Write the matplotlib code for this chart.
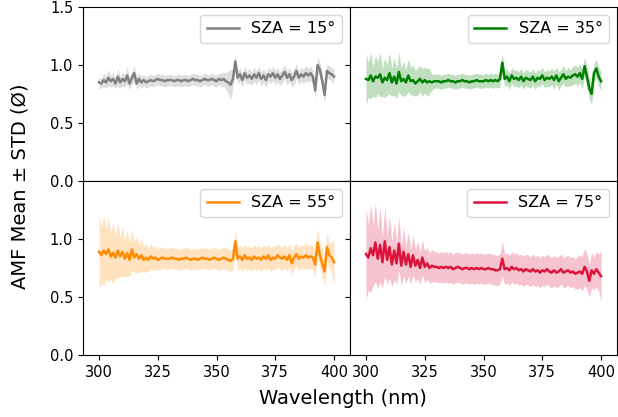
import numpy as np
import matplotlib
matplotlib.use("Agg")
import matplotlib.pyplot as plt

wavelength = np.arange(300, 401, 1)

sza_labels = ["SZA = 15°", "SZA = 35°", "SZA = 55°", "SZA = 75°"]
colors = ["grey", "green", "darkorange", "crimson"]

mean_15 = [
    0.85, 0.84, 0.87, 0.85, 0.89, 0.86, 0.88, 0.84, 0.90, 0.85,
    0.88, 0.86, 0.91, 0.84, 0.89, 0.93, 0.84, 0.88, 0.85, 0.87,
    0.85, 0.86, 0.87, 0.86, 0.87, 0.88, 0.87, 0.87, 0.86, 0.87,
    0.87, 0.87, 0.86, 0.87, 0.87, 0.86, 0.87, 0.87, 0.86, 0.87,
    0.88, 0.87, 0.87, 0.86, 0.87, 0.88, 0.87, 0.87, 0.88, 0.87,
    0.86, 0.88, 0.87, 0.88, 0.86, 0.85, 0.83, 0.88, 1.03, 0.89,
    0.92, 0.87, 0.93, 0.89, 0.91, 0.88, 0.92, 0.89, 0.93, 0.88,
    0.91, 0.87, 0.92, 0.90, 0.93, 0.89, 0.92, 0.88, 0.91, 0.94,
    0.89, 0.92, 0.87, 0.90, 0.95, 0.89, 0.92, 0.90, 0.93, 0.91,
    0.93, 0.90, 0.78, 1.00, 0.96, 0.86, 0.74, 0.95, 0.93, 0.92,
    0.90,
]
std_15 = [
    0.05, 0.04, 0.06, 0.05, 0.07, 0.05, 0.06, 0.04, 0.08, 0.05,
    0.06, 0.05, 0.08, 0.05, 0.06, 0.07, 0.05, 0.06, 0.05, 0.05,
    0.05, 0.05, 0.05, 0.05, 0.05, 0.05, 0.05, 0.05, 0.05, 0.05,
    0.05, 0.05, 0.05, 0.05, 0.05, 0.05, 0.05, 0.05, 0.05, 0.05,
    0.05, 0.05, 0.05, 0.05, 0.05, 0.05, 0.05, 0.05, 0.05, 0.05,
    0.05, 0.05, 0.06, 0.06, 0.07, 0.10, 0.13, 0.08, 0.06, 0.06,
    0.06, 0.06, 0.06, 0.06, 0.06, 0.06, 0.06, 0.06, 0.06, 0.06,
    0.06, 0.06, 0.06, 0.06, 0.06, 0.06, 0.06, 0.06, 0.06, 0.06,
    0.06, 0.06, 0.06, 0.07, 0.06, 0.06, 0.06, 0.06, 0.07, 0.06,
    0.06, 0.06, 0.07, 0.07, 0.06, 0.06, 0.07, 0.06, 0.06, 0.06,
    0.06,
]

mean_35 = [
    0.88, 0.87, 0.91, 0.86, 0.90, 0.89, 0.92, 0.85, 0.89, 0.87,
    0.93, 0.85, 0.90, 0.84, 0.94, 0.86, 0.88, 0.85, 0.91, 0.86,
    0.87, 0.84, 0.86, 0.88, 0.85, 0.87, 0.85, 0.86, 0.85, 0.86,
    0.86, 0.86, 0.85, 0.86, 0.86, 0.87, 0.86, 0.86, 0.85, 0.86,
    0.86, 0.87, 0.86, 0.86, 0.85, 0.86, 0.86, 0.87, 0.86, 0.86,
    0.86, 0.87, 0.86, 0.87, 0.86, 0.87, 0.86, 0.88, 1.02, 0.88,
    0.90, 0.86, 0.91, 0.88, 0.89, 0.87, 0.90, 0.86, 0.89, 0.88,
    0.87, 0.90, 0.86, 0.89, 0.88, 0.91, 0.87, 0.89, 0.88, 0.90,
    0.87, 0.91, 0.86, 0.89, 0.92, 0.88, 0.90, 0.89, 0.91, 0.92,
    0.90, 0.93, 0.88, 0.99, 0.90, 0.80, 0.75, 0.93, 0.97, 0.90,
    0.86,
]
std_35 = [
    0.22, 0.15, 0.20, 0.13, 0.18, 0.14, 0.19, 0.12, 0.17, 0.13,
    0.18, 0.12, 0.16, 0.13, 0.17, 0.12, 0.15, 0.11, 0.14, 0.12,
    0.13, 0.11, 0.12, 0.11, 0.12, 0.11, 0.12, 0.11, 0.07, 0.06,
    0.06, 0.06, 0.06, 0.06, 0.06, 0.06, 0.06, 0.06, 0.06, 0.06,
    0.06, 0.06, 0.06, 0.06, 0.06, 0.06, 0.06, 0.06, 0.06, 0.06,
    0.06, 0.06, 0.06, 0.06, 0.06, 0.06, 0.06, 0.07, 0.08, 0.07,
    0.07, 0.07, 0.07, 0.07, 0.07, 0.07, 0.07, 0.07, 0.07, 0.07,
    0.07, 0.07, 0.07, 0.07, 0.07, 0.07, 0.07, 0.07, 0.07, 0.07,
    0.08, 0.07, 0.08, 0.07, 0.08, 0.07, 0.08, 0.07, 0.08, 0.08,
    0.08, 0.08, 0.09, 0.08, 0.09, 0.09, 0.09, 0.08, 0.08, 0.08,
    0.08,
]

mean_55 = [
    0.89, 0.86, 0.90, 0.87, 0.91, 0.85, 0.88, 0.84, 0.90, 0.85,
    0.89, 0.83, 0.88, 0.82, 0.91, 0.84, 0.87, 0.83, 0.86, 0.82,
    0.84, 0.82, 0.85, 0.83, 0.84, 0.82, 0.83, 0.84, 0.83, 0.83,
    0.83, 0.84, 0.83, 0.83, 0.82, 0.83, 0.83, 0.84, 0.83, 0.82,
    0.83, 0.83, 0.82, 0.83, 0.84, 0.83, 0.83, 0.82, 0.83, 0.84,
    0.83, 0.82, 0.83, 0.84, 0.83, 0.82, 0.81, 0.83, 0.98, 0.83,
    0.85, 0.82, 0.86, 0.83, 0.84, 0.82, 0.85, 0.83, 0.84, 0.82,
    0.85, 0.83, 0.86, 0.82, 0.84, 0.83, 0.86, 0.84, 0.83, 0.85,
    0.82, 0.86, 0.79, 0.84, 0.87, 0.83, 0.85, 0.84, 0.86, 0.84,
    0.85, 0.84, 0.78, 0.97, 0.86, 0.79, 0.72, 0.93, 0.86, 0.84,
    0.80,
]
std_55 = [
    0.32, 0.24, 0.30, 0.22, 0.28, 0.20, 0.26, 0.18, 0.24, 0.17,
    0.22, 0.15, 0.20, 0.14, 0.18, 0.13, 0.16, 0.12, 0.14, 0.11,
    0.12, 0.10, 0.11, 0.10, 0.10, 0.09, 0.10, 0.09, 0.09, 0.09,
    0.09, 0.09, 0.09, 0.09, 0.09, 0.09, 0.09, 0.09, 0.09, 0.09,
    0.09, 0.09, 0.09, 0.09, 0.09, 0.09, 0.09, 0.09, 0.09, 0.09,
    0.09, 0.09, 0.09, 0.09, 0.09, 0.09, 0.09, 0.10, 0.10, 0.10,
    0.10, 0.10, 0.10, 0.10, 0.10, 0.10, 0.10, 0.10, 0.10, 0.10,
    0.10, 0.10, 0.10, 0.10, 0.10, 0.10, 0.10, 0.10, 0.10, 0.10,
    0.10, 0.10, 0.11, 0.10, 0.10, 0.10, 0.10, 0.10, 0.11, 0.10,
    0.10, 0.10, 0.11, 0.12, 0.11, 0.12, 0.12, 0.12, 0.11, 0.13,
    0.20,
]

mean_75 = [
    0.87, 0.84, 0.92, 0.86, 0.97, 0.83, 0.95, 0.80, 0.98, 0.82,
    0.93, 0.78, 0.90, 0.79, 0.96, 0.77, 0.89, 0.78, 0.87, 0.76,
    0.86, 0.77, 0.82, 0.75, 0.84, 0.76, 0.79, 0.75, 0.77, 0.76,
    0.76, 0.75, 0.76, 0.75, 0.76, 0.75, 0.76, 0.74, 0.75, 0.76,
    0.75, 0.74, 0.75, 0.75, 0.74, 0.75, 0.74, 0.75, 0.74, 0.75,
    0.74, 0.74, 0.75, 0.74, 0.74, 0.73, 0.73, 0.74, 0.83, 0.74,
    0.75, 0.73, 0.76, 0.74, 0.75, 0.73, 0.74, 0.72, 0.74, 0.73,
    0.72, 0.74, 0.72, 0.73, 0.71, 0.73, 0.72, 0.74, 0.72, 0.71,
    0.73, 0.71, 0.72, 0.74, 0.71, 0.72, 0.73, 0.71, 0.72, 0.70,
    0.71, 0.72, 0.70, 0.76, 0.72, 0.64, 0.73, 0.70, 0.74, 0.71,
    0.68,
]
std_75 = [
    0.40, 0.28, 0.38, 0.26, 0.34, 0.25, 0.32, 0.22, 0.30, 0.21,
    0.27, 0.19, 0.25, 0.18, 0.23, 0.17, 0.21, 0.16, 0.19, 0.15,
    0.17, 0.14, 0.16, 0.14, 0.15, 0.14, 0.14, 0.13, 0.14, 0.13,
    0.13, 0.13, 0.13, 0.13, 0.13, 0.13, 0.13, 0.13, 0.13, 0.13,
    0.13, 0.13, 0.13, 0.13, 0.13, 0.13, 0.13, 0.13, 0.13, 0.13,
    0.13, 0.13, 0.13, 0.13, 0.13, 0.13, 0.13, 0.13, 0.15, 0.13,
    0.13, 0.13, 0.13, 0.13, 0.13, 0.13, 0.13, 0.13, 0.13, 0.13,
    0.13, 0.13, 0.13, 0.13, 0.13, 0.13, 0.13, 0.13, 0.13, 0.13,
    0.13, 0.13, 0.13, 0.13, 0.13, 0.13, 0.13, 0.13, 0.13, 0.13,
    0.14, 0.14, 0.15, 0.16, 0.15, 0.14, 0.15, 0.14, 0.15, 0.16,
    0.22,
]

means = [mean_15, mean_35, mean_55, mean_75]
stds = [std_15, std_35, std_55, std_75]

fig, axes = plt.subplots(2, 2, figsize=(6.18, 4.17), dpi=100, sharex=True)
fig.subplots_adjust(left=83/618, right=617/618, top=1-7/417, bottom=1-355/417,
                    hspace=0, wspace=0)

for i, ax in enumerate(axes.flat):
    m = np.array(means[i])
    s = np.array(stds[i])
    ax.fill_between(wavelength, m - s, m + s, color=colors[i], alpha=0.25, linewidth=0)
    ax.plot(wavelength, m, color=colors[i], linewidth=1.8, label=sza_labels[i])
    ax.set_ylim(0, 1.5)
    ax.set_xlim(293.2, 406.8)
    ax.set_xticks([300, 325, 350, 375, 400])
    ax.legend(loc="upper right", fontsize=11.5)
    ax.tick_params(labelsize=10.5)

for ax in axes[0]:
    ax.set_yticks([0.0, 0.5, 1.0, 1.5])
for ax in axes[1]:
    ax.set_yticks([0.0, 0.5, 1.0])
for ax in axes[:, 1]:
    ax.tick_params(labelleft=False)

fig.text(343 / 618, 1 - 398 / 417, "Wavelength (nm)", ha="center", va="center", fontsize=14)
fig.text(20 / 618, 1 - 186 / 417, "AMF Mean ± STD (Ø)", ha="center", va="center",
         rotation=90, fontsize=14)

fig.savefig("out.png", dpi=100)
